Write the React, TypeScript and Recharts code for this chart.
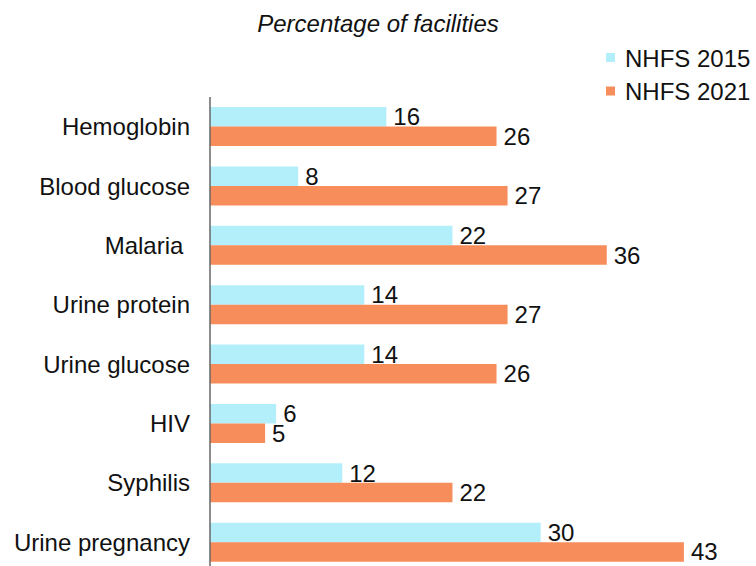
import React from "react";
import { BarChart, Bar, XAxis, YAxis, LabelList, Legend } from "recharts";

const categories = [
  "Hemoglobin",
  "Blood glucose",
  "Malaria ",
  "Urine protein",
  "Urine glucose",
  "HIV",
  "Syphilis",
  "Urine pregnancy",
];
const nhfs2015 = [16, 8, 22, 14, 14, 6, 12, 30];
const nhfs2021 = [26, 27, 36, 27, 26, 5, 22, 43];
const seriesNames = ["NHFS 2015", "NHFS 2021"];
const seriesColors = ["#b3effb", "#f68d5b"];
const title = "Percentage of facilities";

const data = categories.map((c, i) => ({ name: c, s2015: nhfs2015[i], s2021: nhfs2021[i] }));

const FONT = "'Liberation Sans', Arial, sans-serif";
const FS = 24;

const Tick = (props: any) => {
  const { x, y, payload } = props;
  const label = String(payload.value).replace(/ $/, "\u00A0");
  return (
    <text x={x} y={y} dy="0.355em" textAnchor="end" fontSize={FS} fontFamily={FONT} fill="#111">
      {label}
    </text>
  );
};

const LegendContent = () => (
  <svg width={756} height={110} style={{ position: "absolute", left: 0, top: 0, overflow: "visible" }}>
    <text x={378} y={31.5} textAnchor="middle" fontSize={FS} fontStyle="italic" fontFamily={FONT} fill="#111">
      {title}
    </text>
    {seriesNames.map((n, i) => (
      <g key={n}>
        <rect x={606} y={53 + i * 33.5} width={9} height={9} fill={seriesColors[i]} />
        <text x={625} y={66.5 + i * 33.5} fontSize={FS} fontFamily={FONT} fill="#111">
          {n}
        </text>
      </g>
    ))}
  </svg>
);

export default function App() {
  return (
    <div style={{ position: "absolute", left: 0, top: 0, width: 756, height: 566, overflow: "hidden", background: "#fff" }}>
      <BarChart
        width={756}
        height={580}
        data={data}
        layout="vertical"
        margin={{ top: 97, right: 17, bottom: 8, left: 10 }}
        barGap={0}
        barSize={19.5}
      >
        <XAxis type="number" domain={[0, 48]} hide />
        <YAxis
          type="category"
          dataKey="name"
          width={200}
          tickLine={false}
          tickMargin={14}
          axisLine={{ stroke: "#666", strokeWidth: 1.5 }}
          tick={<Tick />}
          interval={0}
        />
        <Legend content={() => null} />
        <Bar dataKey="s2015" name={seriesNames[0]} fill={seriesColors[0]} isAnimationActive={false}>
          <LabelList dataKey="s2015" position="right" offset={7} fontSize={FS} fontFamily={FONT} fill="#111" />
        </Bar>
        <Bar dataKey="s2021" name={seriesNames[1]} fill={seriesColors[1]} isAnimationActive={false}>
          <LabelList dataKey="s2021" position="right" offset={7} fontSize={FS} fontFamily={FONT} fill="#111" />
        </Bar>
      </BarChart>
      <LegendContent />
    </div>
  );
}
